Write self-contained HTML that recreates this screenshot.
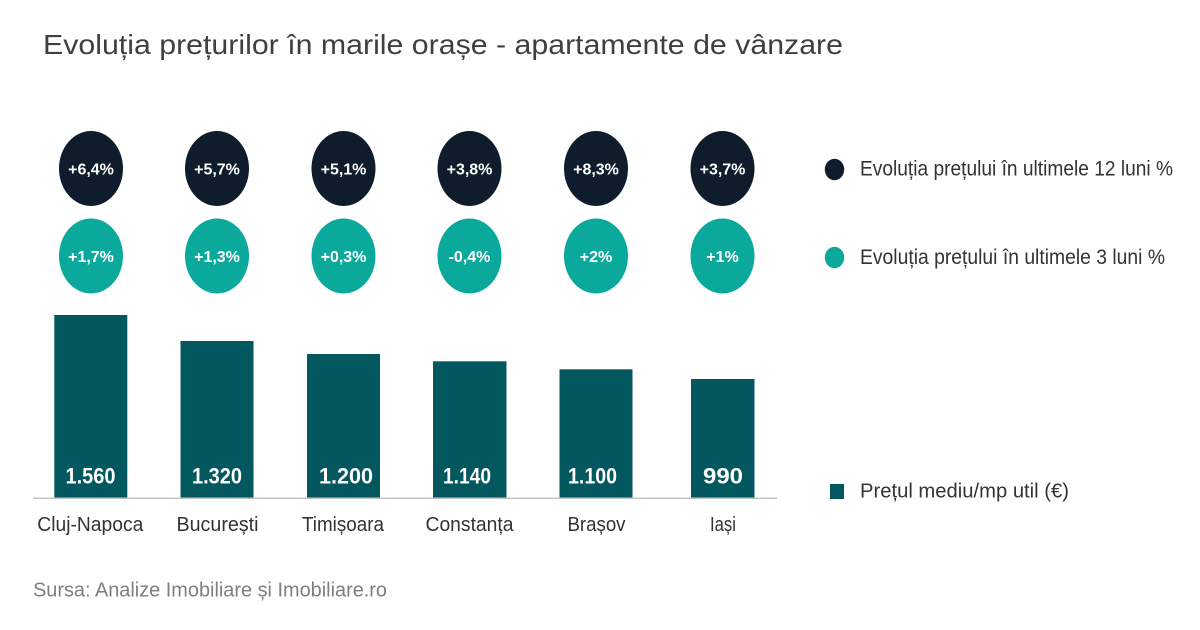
<!DOCTYPE html>
<html>
<head>
<meta charset="utf-8">
<style>
  html, body { margin: 0; padding: 0; background: #ffffff; }
  svg { display: block; }
  text { font-family: "Liberation Sans", "DejaVu Sans", sans-serif; }
</style>
</head>
<body>
<svg width="1200" height="630" viewBox="0 0 1200 630" xmlns="http://www.w3.org/2000/svg">
  <rect x="0" y="0" width="1200" height="630" fill="#ffffff"/>

  <!-- Title -->
  <text x="43" y="54" font-size="28" fill="#3f3f3f" textLength="800" lengthAdjust="spacingAndGlyphs">Evoluția prețurilor în marile orașe - apartamente de vânzare</text>

  <!-- Dark circles (12 months) -->
  <g fill="#0e1c2b">
    <ellipse cx="91" cy="168.5" rx="32" ry="37.5"/>
    <ellipse cx="217" cy="168.5" rx="32" ry="37.5"/>
    <ellipse cx="343.5" cy="168.5" rx="32" ry="37.5"/>
    <ellipse cx="469.5" cy="168.5" rx="32" ry="37.5"/>
    <ellipse cx="596" cy="168.5" rx="32" ry="37.5"/>
    <ellipse cx="722.5" cy="168.5" rx="32" ry="37.5"/>
  </g>
  <g fill="#ffffff" font-size="16" font-weight="bold" text-anchor="middle">
    <text x="91" y="174.5">+6,4%</text>
    <text x="217" y="174.5">+5,7%</text>
    <text x="343.5" y="174.5">+5,1%</text>
    <text x="469.5" y="174.5">+3,8%</text>
    <text x="596" y="174.5">+8,3%</text>
    <text x="722.5" y="174.5">+3,7%</text>
  </g>

  <!-- Teal circles (3 months) -->
  <g fill="#0aa99c">
    <ellipse cx="91" cy="256" rx="32" ry="37.5"/>
    <ellipse cx="217" cy="256" rx="32" ry="37.5"/>
    <ellipse cx="343.5" cy="256" rx="32" ry="37.5"/>
    <ellipse cx="469.5" cy="256" rx="32" ry="37.5"/>
    <ellipse cx="596" cy="256" rx="32" ry="37.5"/>
    <ellipse cx="722.5" cy="256" rx="32" ry="37.5"/>
  </g>
  <g fill="#ffffff" font-size="16" font-weight="bold" text-anchor="middle">
    <text x="91" y="262">+1,7%</text>
    <text x="217" y="262">+1,3%</text>
    <text x="343.5" y="262">+0,3%</text>
    <text x="469.5" y="262">-0,4%</text>
    <text x="596" y="262">+2%</text>
    <text x="722.5" y="262">+1%</text>
  </g>

  <!-- Bars -->
  <g fill="#03575f">
    <rect x="54.3" y="315" width="73" height="183"/>
    <rect x="180.5" y="341" width="73" height="157"/>
    <rect x="307" y="354" width="73" height="144"/>
    <rect x="433" y="361.3" width="73.5" height="136.7"/>
    <rect x="559.5" y="369.3" width="73" height="128.7"/>
    <rect x="691" y="379" width="63.5" height="119"/>
  </g>

  <!-- Axis line -->
  <line x1="33" y1="498.3" x2="777" y2="498.3" stroke="#c4c4c4" stroke-width="1.5"/>

  <!-- Bar values -->
  <g fill="#ffffff" font-size="22" font-weight="bold" text-anchor="middle">
    <text x="90.5" y="483.5" textLength="50" lengthAdjust="spacingAndGlyphs">1.560</text>
    <text x="217" y="483.5" textLength="50" lengthAdjust="spacingAndGlyphs">1.320</text>
    <text x="346" y="483.5" textLength="54" lengthAdjust="spacingAndGlyphs">1.200</text>
    <text x="467" y="483.5" textLength="48" lengthAdjust="spacingAndGlyphs">1.140</text>
    <text x="592.5" y="483.5" textLength="49" lengthAdjust="spacingAndGlyphs">1.100</text>
    <text x="723" y="483.5" textLength="40" lengthAdjust="spacingAndGlyphs">990</text>
  </g>

  <!-- Category labels -->
  <g fill="#333333" font-size="20" text-anchor="middle">
    <text x="90.3" y="531" textLength="106" lengthAdjust="spacingAndGlyphs">Cluj-Napoca</text>
    <text x="217.5" y="531" textLength="82" lengthAdjust="spacingAndGlyphs">București</text>
    <text x="343" y="531" textLength="82" lengthAdjust="spacingAndGlyphs">Timișoara</text>
    <text x="469.5" y="531" textLength="88" lengthAdjust="spacingAndGlyphs">Constanța</text>
    <text x="596.5" y="531" textLength="58" lengthAdjust="spacingAndGlyphs">Brașov</text>
    <text x="723" y="531" textLength="26" lengthAdjust="spacingAndGlyphs">Iași</text>
  </g>

  <!-- Legend -->
  <ellipse cx="834.5" cy="169.5" rx="9.7" ry="10.7" fill="#0e1c2b"/>
  <text x="860" y="175.7" font-size="21" fill="#333333" textLength="313" lengthAdjust="spacingAndGlyphs">Evoluția prețului în ultimele 12 luni %</text>

  <ellipse cx="834.5" cy="257.5" rx="9.7" ry="10.7" fill="#0aa99c"/>
  <text x="860" y="264" font-size="21" fill="#333333" textLength="305" lengthAdjust="spacingAndGlyphs">Evoluția prețului în ultimele 3 luni %</text>

  <rect x="830" y="484" width="14" height="15" fill="#03575f"/>
  <text x="860" y="497.3" font-size="20" fill="#333333" textLength="209" lengthAdjust="spacingAndGlyphs">Prețul mediu/mp util (€)</text>

  <!-- Source -->
  <text x="33" y="596.7" font-size="20" fill="#7f7f7f" textLength="354" lengthAdjust="spacingAndGlyphs">Sursa: Analize Imobiliare și Imobiliare.ro</text>
</svg>
</body>
</html>
